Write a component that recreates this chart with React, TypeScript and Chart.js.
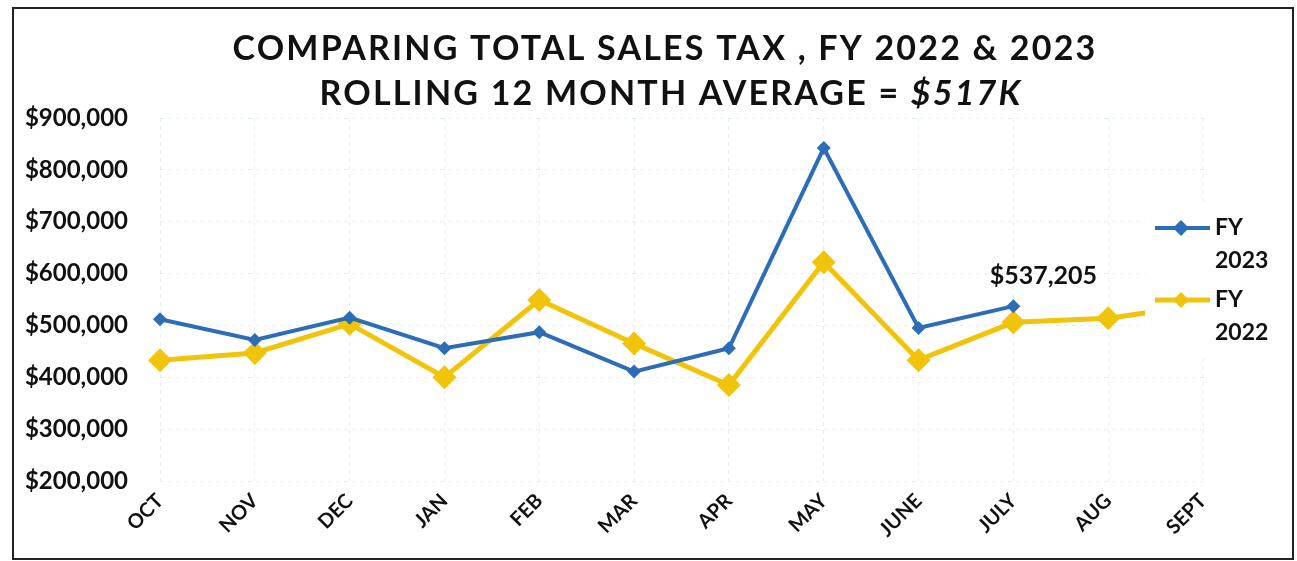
import React, { useEffect, useRef } from "react";
import { Chart, registerables } from "chart.js";

Chart.register(...registerables);

const categories = ["OCT", "NOV", "DEC", "JAN", "FEB", "MAR", "APR", "MAY", "JUNE", "JULY", "AUG", "SEPT"];
const fy2023 = [512000, 472000, 515000, 456000, 487000, 411000, 456000, 842000, 495000, 537205, null, null];
const fy2022 = [433000, 447000, 503000, 400000, 549000, 465000, 385000, 622000, 433000, 506000, 514000, 540000];
const titleLine1 = "COMPARING TOTAL SALES TAX , FY 2022 & 2023";
const titleLine2a = "ROLLING 12 MONTH AVERAGE = ";
const titleLine2b = "$517K";
const calloutLabel = "$537,205";
const calloutIndex = 9;
const legendLabels = [["FY", "2023"], ["FY", "2022"]];

const BLUE = "#2C6DB6";
const GOLD = "#F1C40C";
const FONT = "Lato, 'Open Sans', sans-serif";

const decorPlugin = {
  id: "decor",
  beforeDraw(chart: any) {
    const ctx = chart.ctx;
    ctx.save();
    ctx.fillStyle = "#fff";
    ctx.fillRect(0, 0, chart.width, chart.height);
    ctx.strokeStyle = "#222";
    ctx.lineWidth = 2;
    ctx.strokeRect(13, 8, 1280, 551);
    ctx.restore();
  },
  afterDraw(chart: any) {
    const ctx = chart.ctx;
    ctx.save();
    // title
    ctx.fillStyle = "#111";
    ctx.textBaseline = "middle";
    ctx.textAlign = "left";
    ctx.font = `bold 34px ${FONT}`;
    (ctx as any).letterSpacing = "2.2px";
    const w1 = ctx.measureText(titleLine1).width;
    ctx.fillText(titleLine1, 665 - w1 / 2, 49);
    const wa = ctx.measureText(titleLine2a).width;
    ctx.font = `italic bold 34px ${FONT}`;
    const wb = ctx.measureText(titleLine2b).width;
    const startX = 671 - (wa + wb) / 2;
    ctx.font = `bold 34px ${FONT}`;
    ctx.fillText(titleLine2a, startX, 94);
    ctx.font = `italic bold 34px ${FONT}`;
    ctx.fillText(titleLine2b, startX + wa, 94);
    (ctx as any).letterSpacing = "0px";

    // callout label
    const meta = chart.getDatasetMeta(0);
    const pt = meta.data[calloutIndex];
    ctx.font = `bold 25px ${FONT}`;
    ctx.textAlign = "center";
    ctx.fillText(calloutLabel, pt.x + 30, pt.y - 30);

    // legend
    ctx.fillStyle = "#fff";
    ctx.fillRect(1145, 205, 140, 150);
    const colors = [BLUE, GOLD];
    const ys = [228, 300];
    for (let i = 0; i < 2; i++) {
      const y = ys[i];
      ctx.strokeStyle = colors[i];
      ctx.lineWidth = i === 0 ? 4 : 5;
      ctx.beginPath();
      ctx.moveTo(1155, y);
      ctx.lineTo(1210, y);
      ctx.stroke();
      ctx.fillStyle = colors[i];
      const r = 8;
      ctx.beginPath();
      ctx.moveTo(1181 - r, y);
      ctx.lineTo(1181, y - r);
      ctx.lineTo(1181 + r, y);
      ctx.lineTo(1181, y + r);
      ctx.closePath();
      ctx.fill();
      ctx.fillStyle = "#111";
      ctx.font = `bold 23px ${FONT}`;
      ctx.textAlign = "left";
      ctx.fillText(legendLabels[i][0], 1215, y);
      ctx.fillText(legendLabels[i][1], 1215, y + 33);
    }
    ctx.restore();
  },
};

export default function App() {
  const ref = useRef<HTMLCanvasElement | null>(null);
  useEffect(() => {
    if (!ref.current) return;
    const chart = new Chart(ref.current, {
      type: "line",
      data: {
        labels: categories,
        datasets: [
          {
            label: "FY 2023",
            data: fy2023,
            borderColor: BLUE,
            backgroundColor: BLUE,
            borderWidth: 4,
            pointStyle: "rectRot",
            pointRadius: 7,
            pointBorderWidth: 0,
            tension: 0,
          },
          {
            label: "FY 2022",
            data: fy2022,
            borderColor: GOLD,
            backgroundColor: GOLD,
            borderWidth: 5,
            pointStyle: "rectRot",
            pointRadius: 12,
            pointBorderWidth: 0,
            tension: 0,
          },
        ],
      },
      options: {
        responsive: false,
        animation: false,
        layout: { padding: { top: 118, right: 94, left: 0, bottom: 0 } },
        plugins: {
          legend: { display: false },
          title: { display: false },
          tooltip: { enabled: false },
        },
        scales: {
          x: {
            offset: false,
            afterFit: (s: any) => {
              s.height = 80;
            },
            grid: { color: "rgba(185,215,230,0.4)", drawTicks: false },
            border: { display: false, dash: [4, 4] },
            ticks: {
              autoSkip: false,
              maxRotation: 45,
              minRotation: 45,
              padding: 8,
              color: "#111",
              font: { family: FONT, size: 20, weight: "bold" },
            },
          },
          y: {
            min: 200000,
            max: 900000,
            afterFit: (s: any) => {
              s.width = 160;
            },
            grid: { color: "rgba(185,215,230,0.4)", drawTicks: false },
            border: { display: false, dash: [4, 4] },
            ticks: {
              stepSize: 100000,
              padding: 32,
              color: "#111",
              font: { family: FONT, size: 24, weight: "bold" },
              callback: (v: any) => "$" + Number(v).toLocaleString("en-US"),
            },
          },
        },
      },
      plugins: [decorPlugin],
    });
    return () => chart.destroy();
  }, []);
  return (
    <div style={{ position: "fixed", left: 0, top: 0, width: 1297, height: 561 }}>
      <canvas ref={ref} width={1297} height={561} style={{ display: "block" }} />
    </div>
  );
}
